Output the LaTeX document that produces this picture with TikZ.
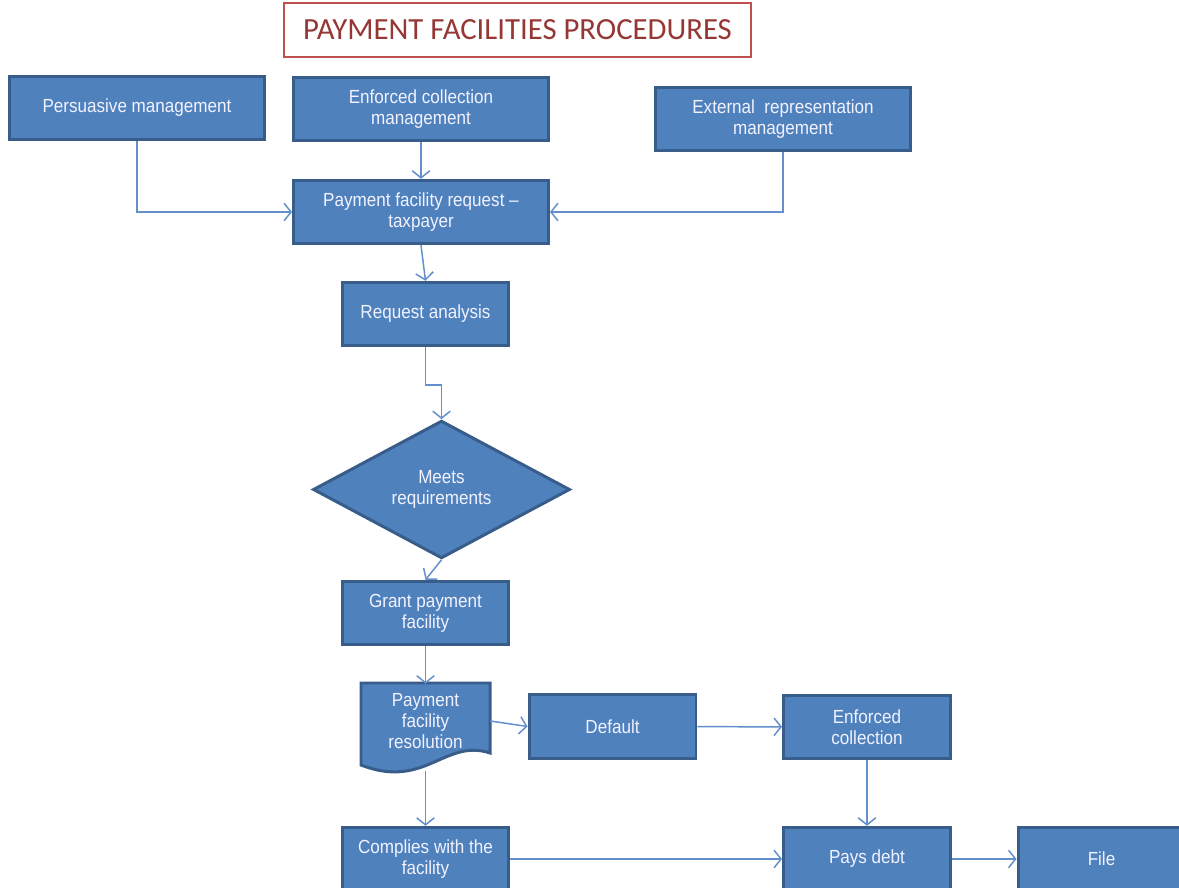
\documentclass[tikz,border=0pt]{standalone}
\usepackage{fontspec}
\usetikzlibrary{shapes.geometric,arrows.meta}
\newfontfamily\boxfont[FakeStretch=0.9]{Liberation Sans}
\newfontfamily\titlefont{Carlito}
\definecolor{boxblue}{HTML}{4F81BD}
\definecolor{boxedge}{HTML}{385D8A}
\definecolor{linkblue}{HTML}{6390CC}
\definecolor{titlered}{HTML}{953735}
\definecolor{titleedge}{HTML}{C0504D}
\begin{document}
\begin{tikzpicture}[x=0.02cm, y=-0.02cm,
	every node/.style={font=\boxfont\fontsize{10.8}{12}\selectfont, text=white!95!blue, align=center, inner sep=0pt},
	proc/.style={rectangle, draw=boxedge, fill=boxblue, line width=1.7pt, minimum height=1.27cm},
	wide/.style={proc, minimum width=5.1cm},
	slim/.style={proc, minimum width=3.34cm},
	decide/.style={diamond, draw=boxedge, fill=boxblue, line width=1.7pt, minimum width=5.14cm, minimum height=2.46cm},
	link/.style={draw=linkblue, line width=0.85pt, -{Straight Barb[length=4pt,width=10pt]}}]
	\clip (0,0) rectangle (1179,888);
	\useasboundingbox (0,0) rectangle (1179,888);
	\node[draw=titleedge, line width=0.9pt, minimum width=9.34cm, minimum height=1.08cm, text=titlered, font=\titlefont\fontsize{17.5}{20}\selectfont] (title) at (517.5,30) {PAYMENT FACILITIES PROCEDURES};
	\node[wide] (pers) at (137,108) {Persuasive management};
	\node[wide] (enfm) at (421,109) {Enforced collection\\management};
	\node[wide] (ext) at (783,119) {External\ \ representation\\management};
	\node[wide] (req) at (421,212) {Payment facility request \textendash\\taxpayer};
	\node[slim] (ana) at (425.5,314) {Request analysis};
	\node[decide] (meets) at (441.5,489.5) {Meets\\requirements};
	\node[slim] (grant) at (425.5,613) {Grant payment\\facility};
	\draw[draw=boxedge, fill=boxblue, line width=1.7pt] (361,683) -- (490,683) -- (490,753)
		.. controls (445,738) and (425,790) .. (361,765) -- cycle;
	\node[minimum width=2.58cm, minimum height=1.48cm] (res) at (425.5,721) {Payment\\facility\\resolution};
	\coordinate (resb) at (425.5,771);
	\node[slim] (dflt) at (612.5,726.5) {Default};
	\node[slim] (enf) at (867,727) {Enforced\\collection};
	\node[slim] (comp) at (425.5,859) {Complies with the\\facility};
	\node[slim] (pays) at (867,859) {Pays debt};
	\node[slim] (file) at (1101.5,859) {File};
	\draw[link] (pers.south) |- (req.west);
	\draw[link] (ext.south) |- (req.east);
	\draw[link] (ana.south) -- ++(0,38) -| (meets.north);
	\draw[link] (enfm) -- (req);
	\draw[link] (req.south) -- (ana.north);
	\draw[link] (meets.south) -- (grant.north);
	\draw[link] (grant) -- (res);
	\draw[link] (res.east) -- (dflt.west);
	\draw[link] (dflt) -- (enf);
	\draw[link] (enf) -- (pays);
	\draw[link] (resb) -- (comp.north);
	\draw[link] (comp) -- (pays);
	\draw[link] (pays) -- (file);
\end{tikzpicture}
\end{document}
